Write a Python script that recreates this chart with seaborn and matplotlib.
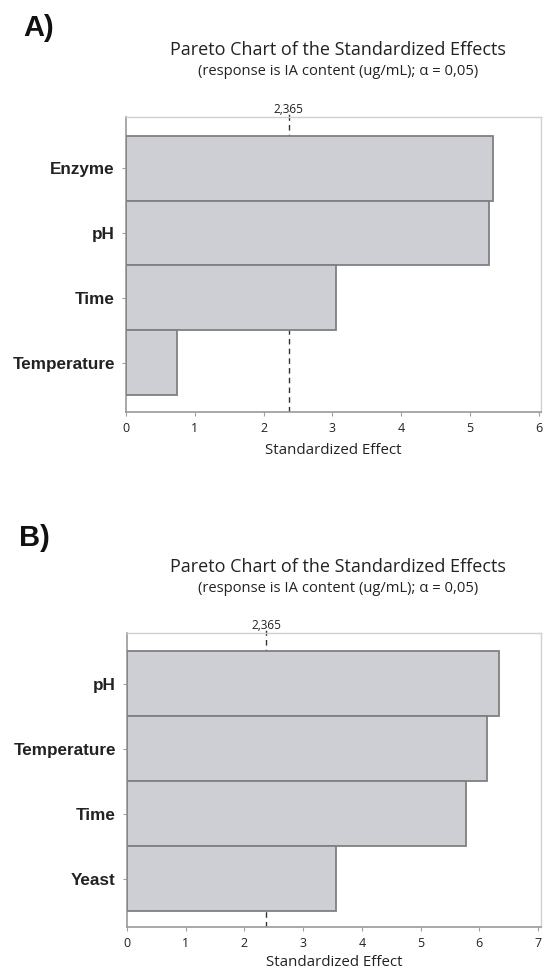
import matplotlib
matplotlib.use("Agg")
import matplotlib.pyplot as plt
import seaborn as sns
import pandas as pd

# Standardized effects for the two experimental designs
factors_a = ["Enzyme", "pH", "Time", "Temperature"]
effects_a = [5.33, 5.28, 3.05, 0.74]

factors_b = ["pH", "Temperature", "Time", "Yeast"]
effects_b = [6.34, 6.13, 5.78, 3.56]

critical_value = 2.365
ticks_a = [0, 1, 2, 3, 4, 5, 6]
ticks_b = [0, 1, 2, 3, 4, 5, 6, 7]

panel_labels = ["A)", "B)"]
title = "Pareto Chart of the Standardized Effects"
subtitle = "(response is IA content (ug/mL); α = 0,05)"
xlabel = "Standardized Effect"
crit_label = "2,365"

sns.set_theme(style="white")
plt.rcParams["font.family"] = ["Open Sans", "DejaVu Sans"]

BAR_FILL = "#cdcfd4"
BAR_EDGE = "#808080"
TEXT = "#222222"

fig = plt.figure(figsize=(5.44, 9.71), dpi=100)


def pareto(rect, factors, effects, ticks, xmax, ylim, label, label_xy,
           title_y, xlabel_pad):
    ax = fig.add_axes(rect)
    df = pd.DataFrame({"Factor": factors, "Effect": effects})
    sns.barplot(data=df, x="Effect", y="Factor", orient="h", ax=ax,
                width=1.0, color=BAR_FILL, saturation=1,
                edgecolor=BAR_EDGE, linewidth=1.3, zorder=3)
    ax.axvline(critical_value, color="#333333", lw=1.0,
               ls=(0, (4, 3)), zorder=1)
    ax.set_xlim(0, xmax)
    ax.set_ylim(*ylim)
    ax.set_xticks(ticks)
    ax.set_xticklabels([str(t) for t in ticks], fontsize=9, color=TEXT)
    ax.set_xlabel(xlabel, fontsize=10.8, color=TEXT, labelpad=xlabel_pad)
    ax.set_ylabel("")
    ax.tick_params(axis="x", length=3, width=0.8, color="#a0a0a0",
                   pad=4, bottom=True)
    ax.tick_params(axis="y", length=3, width=0.8, color="#a0a0a0",
                   pad=5, left=True)
    for t in ax.get_yticklabels():
        t.set_fontfamily(["Liberation Sans", "DejaVu Sans"])
        t.set_fontweight("bold")
        t.set_fontsize(12.3)
        t.set_color(TEXT)
    for side in ("left", "bottom"):
        ax.spines[side].set_color("#9a9a9a")
        ax.spines[side].set_linewidth(1.2)
    for side in ("top", "right"):
        ax.spines[side].set_color("#d0d0d0")
        ax.spines[side].set_linewidth(1.0)
    ax.text(critical_value, 1.004, crit_label, transform=ax.get_xaxis_transform(),
            ha="center", va="bottom", fontsize=8.5, color=TEXT)
    ax.plot([critical_value, critical_value], [1.0, 1.02],
            transform=ax.get_xaxis_transform(), color="#333333", lw=1.0,
            ls=(0, (2, 2)), clip_on=False)
    fig.text(label_xy[0], label_xy[1], label, fontsize=21, fontweight="bold",
             family=["Liberation Sans", "DejaVu Sans"], color="#111111",
             ha="left", va="center")
    fig.text(0.621, title_y, title, fontsize=13, color=TEXT,
             ha="center", va="center")
    fig.text(0.621, title_y - 0.022, subtitle, fontsize=10.6, color=TEXT,
             ha="center", va="center")
    return ax


H = 971.0
W = 544.0
pareto([126 / W, 1 - 412 / H, 415 / W, 295 / H], factors_a, effects_a,
       ticks_a, 6.03, (3.76, -0.79), panel_labels[0],
       (23 / W, 1 - 28 / H), 1 - 50 / H, 6)
pareto([127 / W, 1 - 927 / H, 414 / W, 294 / H], factors_b, effects_b,
       ticks_b, 7.05, (3.746, -0.777), panel_labels[1],
       (19 / W, 1 - 538 / H), 1 - 567 / H, 3.5)

fig.savefig("out.png", dpi=100, facecolor="white")
